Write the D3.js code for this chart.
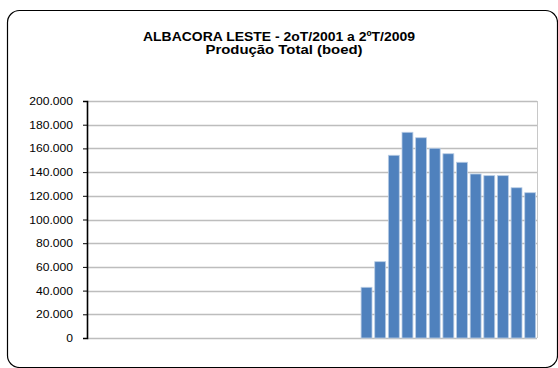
<!DOCTYPE html>
<html>
<head>
<meta charset="utf-8">
<script src="https://cdn.jsdelivr.net/npm/d3@7"></script>
<style>
  html, body { margin: 0; padding: 0; background: #fff; }
  svg { display: block; }
  text { font-family: "Liberation Sans", Arial, sans-serif; }
</style>
</head>
<body>
<svg id="chart" width="558" height="368"></svg>
<script>
// Quarterly total production, 2Q2001 .. 2Q2009 (boed)
const quarters = [
  "2T01","3T01","4T01",
  "1T02","2T02","3T02","4T02",
  "1T03","2T03","3T03","4T03",
  "1T04","2T04","3T04","4T04",
  "1T05","2T05","3T05","4T05",
  "1T06","2T06","3T06","4T06",
  "1T07","2T07","3T07","4T07",
  "1T08","2T08","3T08","4T08",
  "1T09","2T09"
];
const production = [
  0, 0, 0,
  0, 0, 0, 0,
  0, 0, 0, 0,
  0, 0, 0, 0,
  0, 0, 0, 0,
  0, 42800, 64400, 154200,
  173600, 169000, 160100, 155500,
  148300, 138400, 137000, 137000,
  126800, 122600
];
const yTicks = [0, 20000, 40000, 60000, 80000, 100000, 120000, 140000, 160000, 180000, 200000];
const titleLines = ["ALBACORA LESTE - 2oT/2001 a 2ºT/2009", "Produção Total (boed)"];

const svg = d3.select("#chart");
const plot = { left: 87, right: 537, top: 101, bottom: 338 };

// Outer chart frame
svg.append("rect")
  .attr("x", 7.5).attr("y", 10.5)
  .attr("width", 550).attr("height", 357)
  .attr("rx", 12).attr("ry", 12)
  .attr("fill", "#fff").attr("stroke", "#000").attr("stroke-width", 1.2);

// Title, two centred lines, slightly widened face
const titleLayout = [
  { cx: 279, y: 40.5, w: 272 },
  { cx: 284, y: 53.5, w: 157 }
];
svg.append("g")
  .selectAll("text")
  .data(titleLines)
  .join("text")
  .attr("x", (d, i) => titleLayout[i].cx)
  .attr("y", (d, i) => titleLayout[i].y)
  .attr("text-anchor", "middle")
  .attr("font-weight", "bold")
  .attr("font-size", 12)
  .attr("fill", "#000")
  .attr("textLength", (d, i) => titleLayout[i].w)
  .attr("lengthAdjust", "spacingAndGlyphs")
  .text(d => d);

const x = d3.scaleBand()
  .domain(quarters)
  .range([plot.left, plot.right])
  .paddingInner(0.2)
  .paddingOuter(0.1);

const y = d3.scaleLinear()
  .domain([0, 200000])
  .range([plot.bottom, plot.top]);

// Horizontal gridlines
svg.append("g")
  .selectAll("line")
  .data(yTicks)
  .join("line")
  .attr("x1", plot.left).attr("x2", plot.right)
  .attr("y1", d => Math.round(y(d)) + 0.5)
  .attr("y2", d => Math.round(y(d)) + 0.5)
  .attr("stroke", "#bdbdbd").attr("stroke-width", 1.3);

// Right edge of plot area
svg.append("line")
  .attr("x1", plot.right + 0.5).attr("x2", plot.right + 0.5)
  .attr("y1", y(200000)).attr("y2", y(0))
  .attr("stroke", "#c8c8c8").attr("stroke-width", 1);

// Bars
svg.append("g")
  .selectAll("rect")
  .data(quarters.map((q, i) => ({ q, v: production[i] })).filter(d => d.v > 0))
  .join("rect")
  .attr("x", d => x(d.q))
  .attr("width", x.bandwidth())
  .attr("y", d => y(d.v))
  .attr("height", d => y(0) - y(d.v))
  .attr("fill", "#4f81bd")
  .attr("stroke", "#b9cde5")
  .attr("stroke-width", 0.8);

// Y axis
const fmt = d => d === 0 ? "0" : d3.format(",")(d).replace(/,/g, ".");
const yAxis = svg.append("g")
  .attr("transform", `translate(${plot.left},0)`)
  .call(d3.axisLeft(y).tickValues(yTicks).tickSize(4).tickPadding(10).tickFormat(fmt));
yAxis.select(".domain").attr("stroke", "#000").attr("stroke-width", 1.6);
yAxis.selectAll(".tick line").attr("stroke", "#000").attr("stroke-width", 1);
yAxis.selectAll(".tick text")
  .attr("font-size", 11)
  .attr("font-family", "'Liberation Sans', Arial, sans-serif")
  .attr("fill", "#000")
  .each(function () {
    // widen labels a little
    const len = this.getComputedTextLength();
    this.setAttribute("textLength", len * 1.1);
    this.setAttribute("lengthAdjust", "spacingAndGlyphs");
  });
</script>
</body>
</html>
